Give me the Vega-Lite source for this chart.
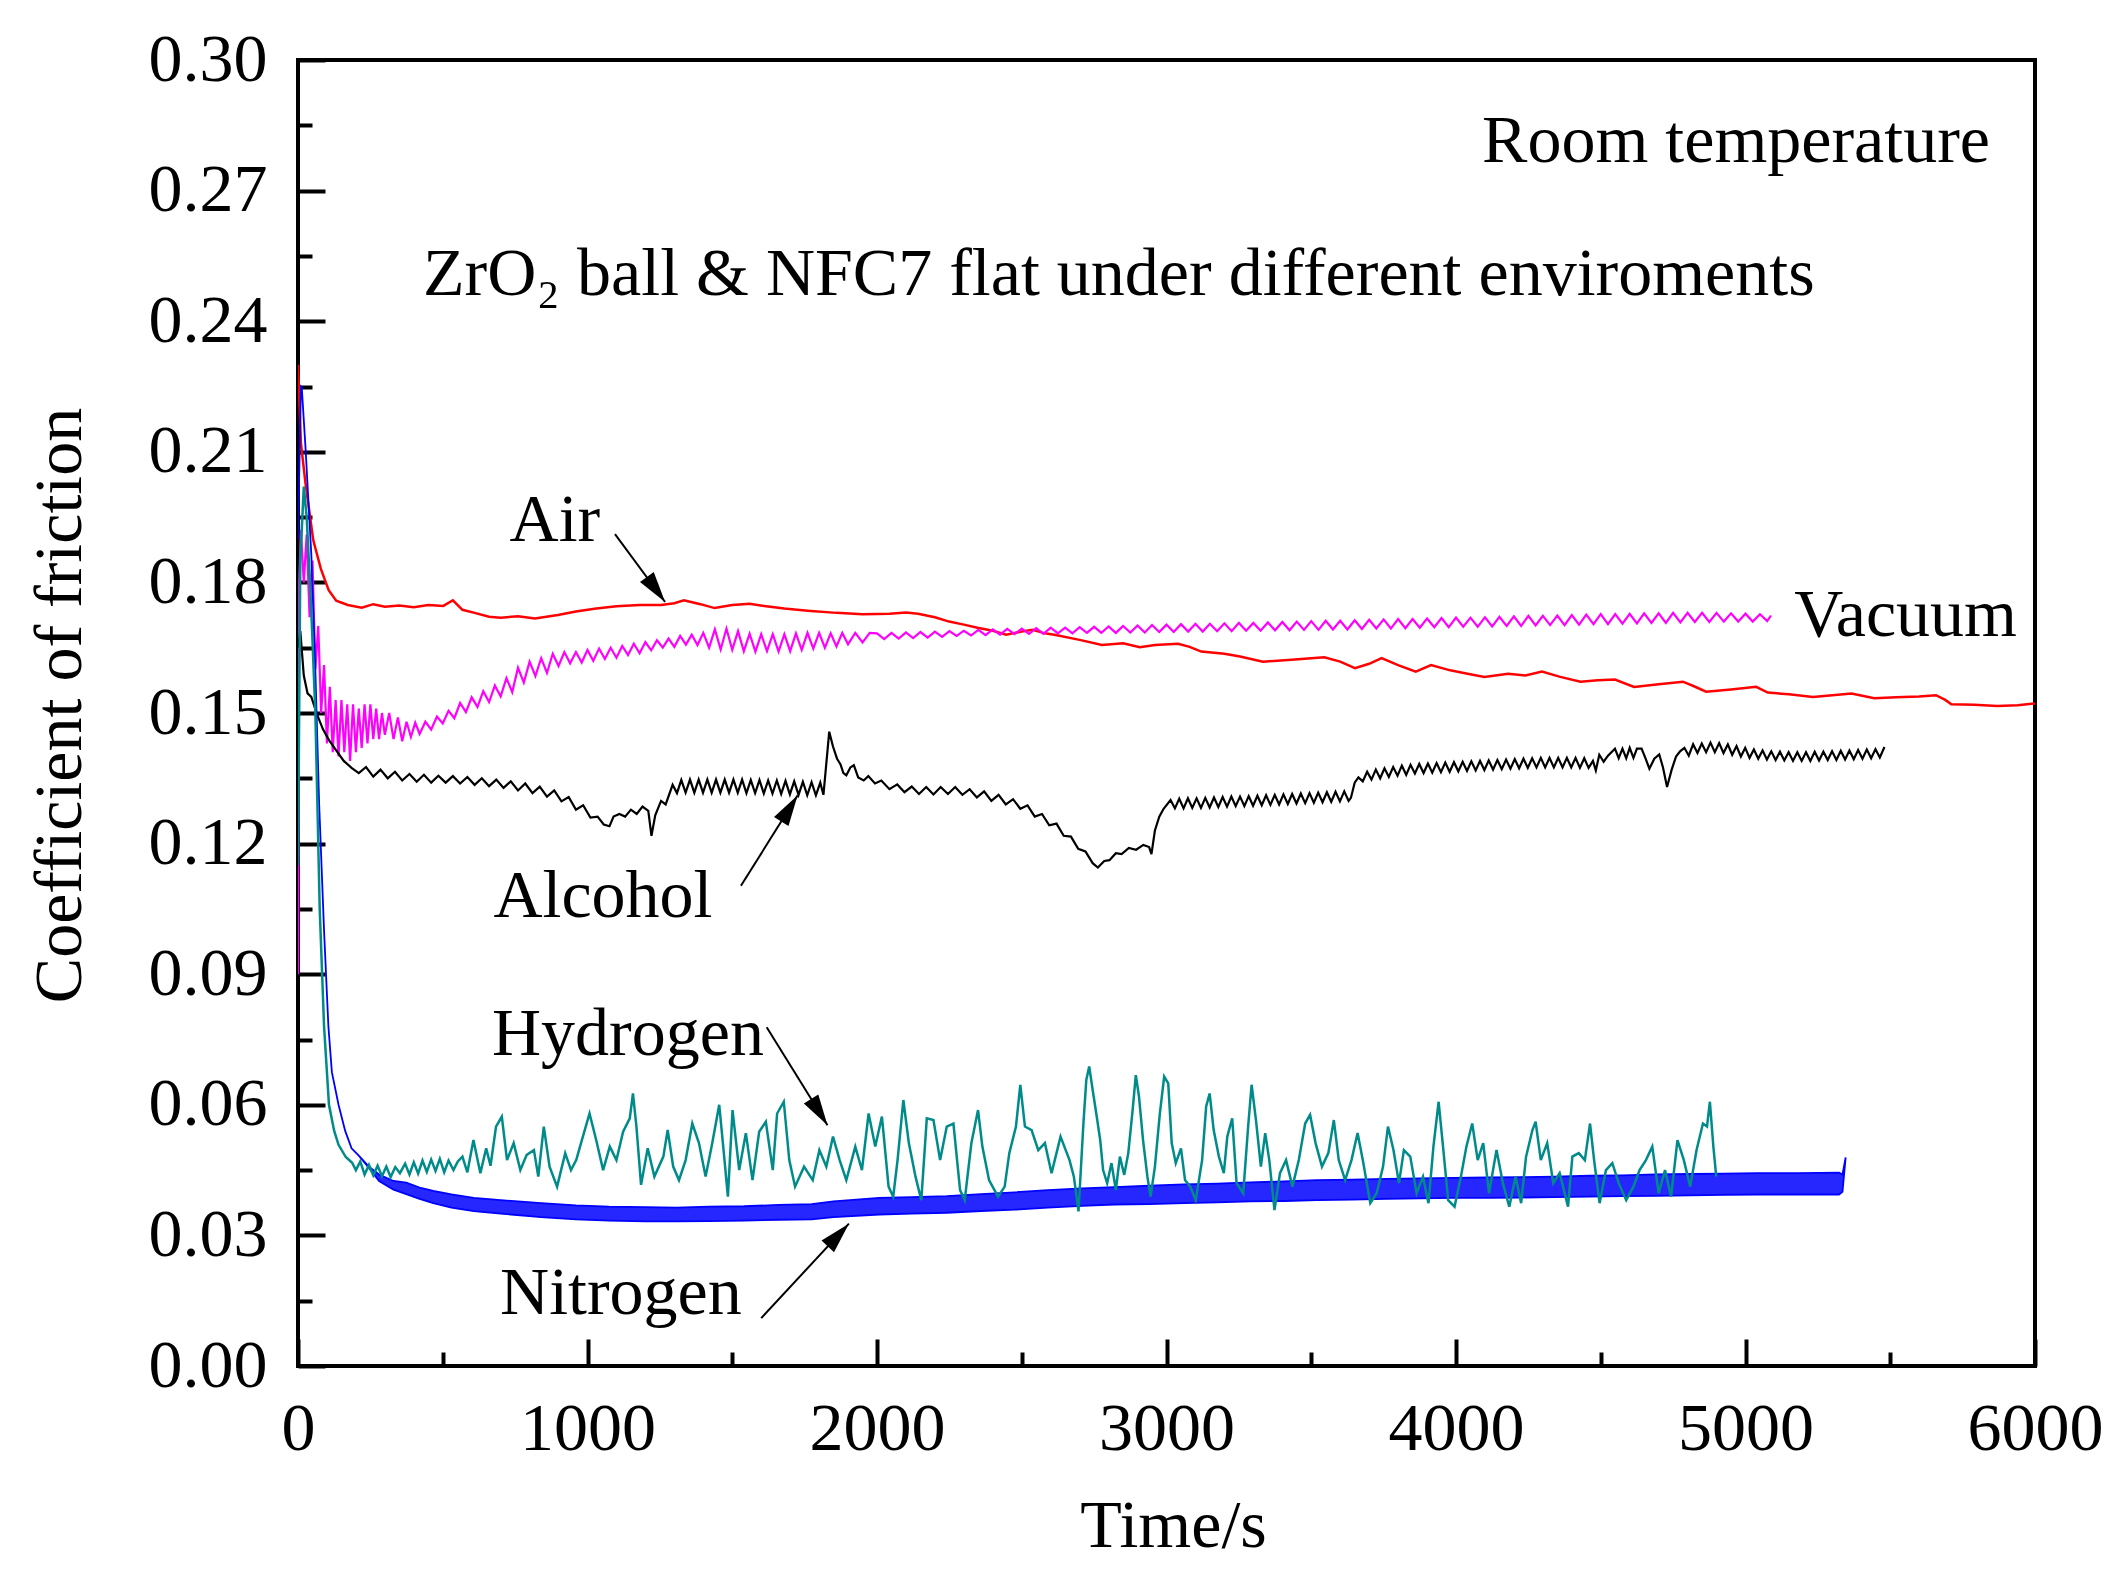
{
  "$schema": "https://vega.github.io/schema/vega-lite/v6.json",
  "width": 1737,
  "height": 1306,
  "autosize": {"type": "none"},
  "padding": {"left": 298, "top": 60, "right": 85, "bottom": 203},
  "background": "white",
  "config": {
    "view": {"stroke": "black", "strokeWidth": 4},
    "font": "Liberation Serif"
  },
  "datasets": {
    "air": [
      {"t":0,"v":0.230},{"t":10,"v":0.212},{"t":26,"v":0.2027},{"t":53,"v":0.1896},{"t":79,"v":0.1831},{"t":106,"v":0.1782},{"t":132,"v":0.1758},{"t":172,"v":0.1748},{"t":220,"v":0.1742},{"t":260,"v":0.1750},{"t":300,"v":0.1744},{"t":350,"v":0.1747},{"t":400,"v":0.1743},{"t":450,"v":0.1748},{"t":502,"v":0.1746},{"t":535,"v":0.1759},{"t":568,"v":0.1737},{"t":610,"v":0.1730},{"t":660,"v":0.1721},{"t":700,"v":0.1719},{"t":760,"v":0.1722},{"t":818,"v":0.1717},{"t":898,"v":0.1725},{"t":960,"v":0.1733},{"t":1030,"v":0.1740},{"t":1100,"v":0.1745},{"t":1180,"v":0.1748},{"t":1254,"v":0.1748},{"t":1300,"v":0.1752},{"t":1333,"v":0.1759},{"t":1390,"v":0.1750},{"t":1439,"v":0.1741},{"t":1500,"v":0.1748},{"t":1560,"v":0.1751},{"t":1610,"v":0.1746},{"t":1680,"v":0.1740},{"t":1760,"v":0.1735},{"t":1861,"v":0.1730},{"t":1950,"v":0.1727},{"t":2043,"v":0.1728},{"t":2100,"v":0.1731},{"t":2142,"v":0.1728},{"t":2200,"v":0.1720},{"t":2249,"v":0.1710},{"t":2300,"v":0.1703},{"t":2347,"v":0.1696},{"t":2400,"v":0.1689},{"t":2446,"v":0.1680},{"t":2500,"v":0.1687},{"t":2538,"v":0.1691},{"t":2580,"v":0.1683},{"t":2617,"v":0.1679},{"t":2700,"v":0.1668},{"t":2777,"v":0.1656},{"t":2850,"v":0.1660},{"t":2908,"v":0.1651},{"t":2960,"v":0.1656},{"t":3040,"v":0.1659},{"t":3080,"v":0.1652},{"t":3120,"v":0.1641},{"t":3200,"v":0.1636},{"t":3254,"v":0.1630},{"t":3333,"v":0.1618},{"t":3420,"v":0.1622},{"t":3500,"v":0.1626},{"t":3545,"v":0.1628},{"t":3600,"v":0.1618},{"t":3651,"v":0.1603},{"t":3700,"v":0.1613},{"t":3743,"v":0.1626},{"t":3800,"v":0.1610},{"t":3861,"v":0.1595},{"t":3914,"v":0.1610},{"t":3980,"v":0.1598},{"t":4040,"v":0.1590},{"t":4098,"v":0.1583},{"t":4180,"v":0.1590},{"t":4240,"v":0.1586},{"t":4297,"v":0.1595},{"t":4360,"v":0.1583},{"t":4430,"v":0.1572},{"t":4490,"v":0.1575},{"t":4549,"v":0.1577},{"t":4615,"v":0.1560},{"t":4700,"v":0.1566},{"t":4784,"v":0.1572},{"t":4820,"v":0.1562},{"t":4864,"v":0.1549},{"t":4950,"v":0.1554},{"t":5037,"v":0.1560},{"t":5077,"v":0.1547},{"t":5150,"v":0.1543},{"t":5233,"v":0.1537},{"t":5300,"v":0.1541},{"t":5366,"v":0.1545},{"t":5445,"v":0.1534},{"t":5520,"v":0.1536},{"t":5600,"v":0.1538},{"t":5658,"v":0.1541},{"t":5690,"v":0.1530},{"t":5711,"v":0.1520},{"t":5790,"v":0.1519},{"t":5870,"v":0.1516},{"t":5940,"v":0.1518},{"t":6000,"v":0.1522}
    ],
    "vacuum": [
      {"t":0,"v":0.090},{"t":4,"v":0.180},{"t":10,"v":0.192},{"t":20,"v":0.180},{"t":30,"v":0.191},{"t":40,"v":0.172},{"t":50,"v":0.185},{"t":60,"v":0.160},{"t":70,"v":0.170},{"t":80,"v":0.150},{"t":90,"v":0.161},{"t":100,"v":0.143},{"t":110,"v":0.156},{"t":120,"v":0.141},{"t":130,"v":0.153},{"t":140,"v":0.140},{"t":150,"v":0.153},{"t":160,"v":0.141},{"t":170,"v":0.152},{"t":180,"v":0.139},{"t":190,"v":0.152},{"t":200,"v":0.141},{"t":210,"v":0.151},{"t":220,"v":0.142},{"t":230,"v":0.152},{"t":240,"v":0.143},{"t":250,"v":0.152},{"t":260,"v":0.144},{"t":270,"v":0.151},{"t":280,"v":0.144},{"t":290,"v":0.150},{"t":300,"v":0.145},{"t":315,"v":0.150},{"t":330,"v":0.144},{"t":345,"v":0.149},{"t":360,"v":0.1435},{"t":375,"v":0.148},{"t":390,"v":0.1445},{"t":405,"v":0.1478},{"t":420,"v":0.1452},{"t":440,"v":0.1480},{"t":460,"v":0.1462},{"t":480,"v":0.1492},{"t":500,"v":0.1476},{"t":520,"v":0.1505},{"t":540,"v":0.1488},{"t":560,"v":0.1523},{"t":580,"v":0.1502},{"t":600,"v":0.1536},{"t":620,"v":0.1514},{"t":640,"v":0.1550},{"t":660,"v":0.1525},{"t":680,"v":0.1563},{"t":700,"v":0.1538},{"t":720,"v":0.1580},{"t":740,"v":0.1548},{"t":760,"v":0.1604},{"t":780,"v":0.1570},{"t":800,"v":0.1618},{"t":820,"v":0.1585},{"t":840,"v":0.1626},{"t":860,"v":0.1592},{"t":880,"v":0.1636},{"t":900,"v":0.1608},{"t":920,"v":0.1640},{"t":940,"v":0.1614},{"t":960,"v":0.1640},{"t":980,"v":0.1616},{"t":1000,"v":0.1645},{"t":1020,"v":0.1620},{"t":1040,"v":0.1648},{"t":1060,"v":0.1624},{"t":1080,"v":0.1650},{"t":1100,"v":0.1627},{"t":1120,"v":0.1654},{"t":1140,"v":0.1633},{"t":1160,"v":0.1659},{"t":1180,"v":0.1637},{"t":1200,"v":0.1663},{"t":1220,"v":0.1644},{"t":1240,"v":0.1667},{"t":1260,"v":0.1650},{"t":1280,"v":0.1671},{"t":1300,"v":0.1652},{"t":1320,"v":0.1677},{"t":1340,"v":0.1657},{"t":1360,"v":0.1680},{"t":1380,"v":0.1656},{"t":1400,"v":0.1684},{"t":1420,"v":0.1650},{"t":1440,"v":0.1692},{"t":1460,"v":0.1646},{"t":1480,"v":0.1694},{"t":1500,"v":0.1645},{"t":1520,"v":0.1688},{"t":1540,"v":0.1642},{"t":1560,"v":0.1682},{"t":1580,"v":0.1641},{"t":1600,"v":0.1681},{"t":1620,"v":0.1642},{"t":1640,"v":0.1681},{"t":1660,"v":0.1641},{"t":1680,"v":0.1681},{"t":1700,"v":0.1642},{"t":1720,"v":0.1683},{"t":1740,"v":0.1645},{"t":1760,"v":0.1684},{"t":1780,"v":0.1648},{"t":1800,"v":0.1684},{"t":1820,"v":0.1650},{"t":1840,"v":0.1683},{"t":1860,"v":0.1653},{"t":1880,"v":0.1684},{"t":1900,"v":0.1658},{"t":1925,"v":0.1684},{"t":1950,"v":0.1662},{"t":1975,"v":0.1684},{"t":2000,"v":0.1683},{"t":2025,"v":0.1670},{"t":2050,"v":0.1684},{"t":2075,"v":0.1671},{"t":2100,"v":0.1685},{"t":2125,"v":0.1672},{"t":2150,"v":0.1686},{"t":2175,"v":0.1673},{"t":2200,"v":0.1687},{"t":2225,"v":0.1675},{"t":2250,"v":0.1688},{"t":2275,"v":0.1677},{"t":2300,"v":0.1689},{"t":2325,"v":0.1678},{"t":2350,"v":0.1691},{"t":2375,"v":0.1679},{"t":2400,"v":0.1692},{"t":2425,"v":0.1680},{"t":2450,"v":0.1693},{"t":2475,"v":0.1681},{"t":2500,"v":0.1694},{"t":2525,"v":0.1682},{"t":2550,"v":0.1695},{"t":2575,"v":0.1682},{"t":2600,"v":0.1696},{"t":2625,"v":0.1683},{"t":2650,"v":0.1696},{"t":2675,"v":0.1683},{"t":2700,"v":0.1697},{"t":2725,"v":0.1684},{"t":2750,"v":0.1698},{"t":2775,"v":0.1684},{"t":2800,"v":0.1699},{"t":2825,"v":0.1684},{"t":2850,"v":0.1700},{"t":2875,"v":0.1685},{"t":2900,"v":0.1701},{"t":2925,"v":0.1685},{"t":2950,"v":0.1702},{"t":2975,"v":0.1686},{"t":3000,"v":0.1703},{"t":3025,"v":0.1686},{"t":3050,"v":0.1704},{"t":3075,"v":0.1687},{"t":3100,"v":0.1705},{"t":3125,"v":0.1687},{"t":3150,"v":0.1705},{"t":3175,"v":0.1688},{"t":3200,"v":0.1706},{"t":3225,"v":0.1688},{"t":3250,"v":0.1707},{"t":3275,"v":0.1689},{"t":3300,"v":0.1707},{"t":3325,"v":0.1689},{"t":3350,"v":0.1708},{"t":3375,"v":0.1690},{"t":3400,"v":0.1709},{"t":3425,"v":0.1690},{"t":3450,"v":0.1710},{"t":3475,"v":0.1691},{"t":3500,"v":0.1711},{"t":3525,"v":0.1691},{"t":3550,"v":0.1712},{"t":3575,"v":0.1692},{"t":3600,"v":0.1712},{"t":3625,"v":0.1692},{"t":3650,"v":0.1713},{"t":3675,"v":0.1693},{"t":3700,"v":0.1714},{"t":3725,"v":0.1694},{"t":3750,"v":0.1715},{"t":3775,"v":0.1694},{"t":3800,"v":0.1716},{"t":3825,"v":0.1695},{"t":3850,"v":0.1716},{"t":3875,"v":0.1696},{"t":3900,"v":0.1717},{"t":3925,"v":0.1697},{"t":3950,"v":0.1718},{"t":3975,"v":0.1697},{"t":4000,"v":0.1719},{"t":4025,"v":0.1698},{"t":4050,"v":0.1719},{"t":4075,"v":0.1698},{"t":4100,"v":0.1720},{"t":4125,"v":0.1699},{"t":4150,"v":0.1721},{"t":4175,"v":0.1700},{"t":4200,"v":0.1722},{"t":4225,"v":0.1700},{"t":4250,"v":0.1723},{"t":4275,"v":0.1701},{"t":4300,"v":0.1723},{"t":4325,"v":0.1702},{"t":4350,"v":0.1724},{"t":4375,"v":0.1702},{"t":4400,"v":0.1725},{"t":4425,"v":0.1703},{"t":4450,"v":0.1726},{"t":4475,"v":0.1704},{"t":4500,"v":0.1727},{"t":4525,"v":0.1704},{"t":4550,"v":0.1727},{"t":4575,"v":0.1705},{"t":4600,"v":0.1728},{"t":4625,"v":0.1706},{"t":4650,"v":0.1729},{"t":4675,"v":0.1707},{"t":4700,"v":0.1729},{"t":4725,"v":0.1707},{"t":4750,"v":0.1730},{"t":4775,"v":0.1708},{"t":4800,"v":0.1730},{"t":4825,"v":0.1709},{"t":4850,"v":0.1730},{"t":4875,"v":0.1709},{"t":4900,"v":0.1730},{"t":4925,"v":0.1710},{"t":4950,"v":0.1729},{"t":4975,"v":0.1710},{"t":5000,"v":0.1728},{"t":5025,"v":0.1710},{"t":5050,"v":0.1727},{"t":5075,"v":0.1711},{"t":5088,"v":0.1724}
    ],
    "alcohol": [
      {"t":0,"v":0.165},{"t":8,"v":0.1688},{"t":20,"v":0.1586},{"t":33,"v":0.1545},{"t":46,"v":0.1537},{"t":66,"v":0.1496},{"t":86,"v":0.1463},{"t":106,"v":0.1439},{"t":132,"v":0.1414},{"t":158,"v":0.1390},{"t":185,"v":0.1374},{"t":210,"v":0.1362},{"t":235,"v":0.1376},{"t":260,"v":0.1354},{"t":285,"v":0.1370},{"t":310,"v":0.1350},{"t":335,"v":0.1365},{"t":360,"v":0.1345},{"t":385,"v":0.1360},{"t":410,"v":0.1342},{"t":435,"v":0.1358},{"t":460,"v":0.1340},{"t":485,"v":0.1356},{"t":510,"v":0.1340},{"t":535,"v":0.1355},{"t":560,"v":0.1338},{"t":585,"v":0.1353},{"t":610,"v":0.1335},{"t":635,"v":0.1350},{"t":660,"v":0.1332},{"t":685,"v":0.1347},{"t":710,"v":0.1328},{"t":735,"v":0.1343},{"t":760,"v":0.1322},{"t":785,"v":0.1338},{"t":810,"v":0.1316},{"t":835,"v":0.1331},{"t":860,"v":0.1308},{"t":885,"v":0.1322},{"t":910,"v":0.1297},{"t":935,"v":0.1307},{"t":960,"v":0.1278},{"t":985,"v":0.1288},{"t":1010,"v":0.1260},{"t":1035,"v":0.1262},{"t":1056,"v":0.1244},{"t":1076,"v":0.1240},{"t":1090,"v":0.1262},{"t":1110,"v":0.1268},{"t":1130,"v":0.1262},{"t":1150,"v":0.1278},{"t":1170,"v":0.1268},{"t":1190,"v":0.1285},{"t":1210,"v":0.1275},{"t":1221,"v":0.1218},{"t":1234,"v":0.1265},{"t":1254,"v":0.1298},{"t":1270,"v":0.1290},{"t":1294,"v":0.1335},{"t":1309,"v":0.1316},{"t":1324,"v":0.1346},{"t":1339,"v":0.1317},{"t":1354,"v":0.1347},{"t":1369,"v":0.1317},{"t":1384,"v":0.1347},{"t":1399,"v":0.1317},{"t":1414,"v":0.1347},{"t":1429,"v":0.1317},{"t":1444,"v":0.1347},{"t":1459,"v":0.1317},{"t":1474,"v":0.1347},{"t":1489,"v":0.1317},{"t":1504,"v":0.1347},{"t":1519,"v":0.1317},{"t":1534,"v":0.1347},{"t":1549,"v":0.1316},{"t":1564,"v":0.1346},{"t":1579,"v":0.1316},{"t":1594,"v":0.1346},{"t":1609,"v":0.1315},{"t":1624,"v":0.1345},{"t":1639,"v":0.1315},{"t":1654,"v":0.1345},{"t":1669,"v":0.1314},{"t":1684,"v":0.1344},{"t":1699,"v":0.1313},{"t":1714,"v":0.1343},{"t":1729,"v":0.1312},{"t":1744,"v":0.1342},{"t":1759,"v":0.1311},{"t":1774,"v":0.1341},{"t":1789,"v":0.1311},{"t":1804,"v":0.1340},{"t":1815,"v":0.1312},{"t":1835,"v":0.1457},{"t":1848,"v":0.1423},{"t":1862,"v":0.1395},{"t":1874,"v":0.1382},{"t":1884,"v":0.1362},{"t":1894,"v":0.1357},{"t":1908,"v":0.1375},{"t":1920,"v":0.1380},{"t":1935,"v":0.1352},{"t":1954,"v":0.1345},{"t":1970,"v":0.1355},{"t":1993,"v":0.1338},{"t":2015,"v":0.1345},{"t":2043,"v":0.1325},{"t":2070,"v":0.1336},{"t":2095,"v":0.1318},{"t":2120,"v":0.1331},{"t":2145,"v":0.1314},{"t":2170,"v":0.1330},{"t":2195,"v":0.1313},{"t":2220,"v":0.1330},{"t":2245,"v":0.1314},{"t":2270,"v":0.1330},{"t":2295,"v":0.1312},{"t":2320,"v":0.1325},{"t":2345,"v":0.1306},{"t":2370,"v":0.1320},{"t":2395,"v":0.1298},{"t":2420,"v":0.1312},{"t":2445,"v":0.1290},{"t":2470,"v":0.1302},{"t":2495,"v":0.1280},{"t":2520,"v":0.1288},{"t":2545,"v":0.1262},{"t":2570,"v":0.1268},{"t":2595,"v":0.1242},{"t":2620,"v":0.1246},{"t":2645,"v":0.1218},{"t":2670,"v":0.1216},{"t":2695,"v":0.1188},{"t":2720,"v":0.1182},{"t":2745,"v":0.1155},{"t":2763,"v":0.1145},{"t":2785,"v":0.1160},{"t":2803,"v":0.1162},{"t":2825,"v":0.1178},{"t":2845,"v":0.1176},{"t":2870,"v":0.1190},{"t":2895,"v":0.1186},{"t":2920,"v":0.1197},{"t":2940,"v":0.1192},{"t":2948,"v":0.1176},{"t":2960,"v":0.1230},{"t":2975,"v":0.1262},{"t":2990,"v":0.1280},{"t":3014,"v":0.1300},{"t":3029,"v":0.1281},{"t":3044,"v":0.1303},{"t":3059,"v":0.1281},{"t":3074,"v":0.1304},{"t":3089,"v":0.1282},{"t":3104,"v":0.1304},{"t":3119,"v":0.1282},{"t":3134,"v":0.1305},{"t":3149,"v":0.1283},{"t":3164,"v":0.1306},{"t":3179,"v":0.1284},{"t":3194,"v":0.1307},{"t":3209,"v":0.1285},{"t":3224,"v":0.1308},{"t":3239,"v":0.1286},{"t":3254,"v":0.1308},{"t":3269,"v":0.1286},{"t":3284,"v":0.1309},{"t":3299,"v":0.1287},{"t":3314,"v":0.1310},{"t":3329,"v":0.1288},{"t":3344,"v":0.1311},{"t":3359,"v":0.1289},{"t":3374,"v":0.1312},{"t":3389,"v":0.1290},{"t":3404,"v":0.1313},{"t":3419,"v":0.1291},{"t":3434,"v":0.1314},{"t":3449,"v":0.1292},{"t":3464,"v":0.1315},{"t":3479,"v":0.1293},{"t":3494,"v":0.1316},{"t":3509,"v":0.1294},{"t":3524,"v":0.1317},{"t":3539,"v":0.1295},{"t":3554,"v":0.1318},{"t":3569,"v":0.1296},{"t":3584,"v":0.1319},{"t":3599,"v":0.1297},{"t":3614,"v":0.1320},{"t":3629,"v":0.1298},{"t":3637,"v":0.1305},{"t":3650,"v":0.1340},{"t":3663,"v":0.1352},{"t":3678,"v":0.1343},{"t":3693,"v":0.1365},{"t":3708,"v":0.1347},{"t":3723,"v":0.1370},{"t":3738,"v":0.1350},{"t":3753,"v":0.1373},{"t":3768,"v":0.1353},{"t":3783,"v":0.1376},{"t":3798,"v":0.1356},{"t":3813,"v":0.1379},{"t":3828,"v":0.1358},{"t":3843,"v":0.1381},{"t":3858,"v":0.1361},{"t":3873,"v":0.1383},{"t":3888,"v":0.1362},{"t":3903,"v":0.1384},{"t":3918,"v":0.1363},{"t":3933,"v":0.1385},{"t":3948,"v":0.1364},{"t":3963,"v":0.1386},{"t":3978,"v":0.1365},{"t":3993,"v":0.1387},{"t":4008,"v":0.1366},{"t":4023,"v":0.1388},{"t":4038,"v":0.1367},{"t":4053,"v":0.1389},{"t":4068,"v":0.1368},{"t":4083,"v":0.1390},{"t":4098,"v":0.1369},{"t":4113,"v":0.1391},{"t":4128,"v":0.1370},{"t":4143,"v":0.1392},{"t":4158,"v":0.1371},{"t":4173,"v":0.1393},{"t":4188,"v":0.1372},{"t":4203,"v":0.1394},{"t":4218,"v":0.1373},{"t":4233,"v":0.1395},{"t":4248,"v":0.1374},{"t":4263,"v":0.1396},{"t":4278,"v":0.1375},{"t":4293,"v":0.1397},{"t":4308,"v":0.1375},{"t":4323,"v":0.1397},{"t":4338,"v":0.1375},{"t":4353,"v":0.1397},{"t":4368,"v":0.1375},{"t":4383,"v":0.1397},{"t":4398,"v":0.1375},{"t":4413,"v":0.1397},{"t":4428,"v":0.1374},{"t":4443,"v":0.1396},{"t":4458,"v":0.1374},{"t":4473,"v":0.1390},{"t":4483,"v":0.1368},{"t":4495,"v":0.1404},{"t":4510,"v":0.1388},{"t":4525,"v":0.1402},{"t":4549,"v":0.1418},{"t":4562,"v":0.1396},{"t":4575,"v":0.1418},{"t":4588,"v":0.1396},{"t":4600,"v":0.1420},{"t":4613,"v":0.1397},{"t":4625,"v":0.1418},{"t":4641,"v":0.1418},{"t":4655,"v":0.1395},{"t":4668,"v":0.1372},{"t":4685,"v":0.1395},{"t":4702,"v":0.1405},{"t":4715,"v":0.1375},{"t":4729,"v":0.1330},{"t":4745,"v":0.1370},{"t":4760,"v":0.1400},{"t":4774,"v":0.1412},{"t":4789,"v":0.1420},{"t":4804,"v":0.1402},{"t":4819,"v":0.1428},{"t":4834,"v":0.1408},{"t":4849,"v":0.1430},{"t":4864,"v":0.1410},{"t":4879,"v":0.1432},{"t":4894,"v":0.1410},{"t":4909,"v":0.1431},{"t":4924,"v":0.1408},{"t":4939,"v":0.1428},{"t":4954,"v":0.1404},{"t":4969,"v":0.1424},{"t":4984,"v":0.1400},{"t":4999,"v":0.1420},{"t":5014,"v":0.1397},{"t":5029,"v":0.1416},{"t":5044,"v":0.1395},{"t":5059,"v":0.1414},{"t":5074,"v":0.1393},{"t":5089,"v":0.1412},{"t":5104,"v":0.1392},{"t":5119,"v":0.1411},{"t":5134,"v":0.1391},{"t":5149,"v":0.1410},{"t":5164,"v":0.1390},{"t":5179,"v":0.1410},{"t":5194,"v":0.1390},{"t":5209,"v":0.1410},{"t":5224,"v":0.1390},{"t":5239,"v":0.1411},{"t":5254,"v":0.1391},{"t":5269,"v":0.1411},{"t":5284,"v":0.1392},{"t":5299,"v":0.1412},{"t":5314,"v":0.1392},{"t":5329,"v":0.1413},{"t":5344,"v":0.1393},{"t":5359,"v":0.1414},{"t":5374,"v":0.1394},{"t":5389,"v":0.1415},{"t":5404,"v":0.1395},{"t":5419,"v":0.1416},{"t":5434,"v":0.1396},{"t":5449,"v":0.1417},{"t":5464,"v":0.1398},{"t":5480,"v":0.1422}
    ],
    "nitrogen": [
      {"t":0,"lo":0.190,"hi":0.190},{"t":10,"lo":0.225,"hi":0.225},{"t":13,"lo":0.2248,"hi":0.2248},{"t":26,"lo":0.2109,"hi":0.2109},{"t":46,"lo":0.1864,"hi":0.1864},{"t":59,"lo":0.162,"hi":0.162},{"t":73,"lo":0.1292,"hi":0.1292},{"t":90,"lo":0.100,"hi":0.100},{"t":105,"lo":0.078,"hi":0.078},{"t":117,"lo":0.0675,"hi":0.0675},{"t":140,"lo":0.060,"hi":0.060},{"t":163,"lo":0.054,"hi":0.054},{"t":185,"lo":0.050,"hi":0.050},{"t":210,"lo":0.0483,"hi":0.0483},{"t":245,"lo":0.0455,"hi":0.0458},{"t":280,"lo":0.0425,"hi":0.0440},{"t":330,"lo":0.0405,"hi":0.0425},{"t":374,"lo":0.0395,"hi":0.0421},{"t":420,"lo":0.0384,"hi":0.0410},{"t":467,"lo":0.0374,"hi":0.0402},{"t":530,"lo":0.0364,"hi":0.0394},{"t":607,"lo":0.0356,"hi":0.0386},{"t":700,"lo":0.0350,"hi":0.0381},{"t":840,"lo":0.0342,"hi":0.0374},{"t":960,"lo":0.0337,"hi":0.0369},{"t":1074,"lo":0.0334,"hi":0.0366},{"t":1200,"lo":0.0332,"hi":0.0365},{"t":1307,"lo":0.0332,"hi":0.0364},{"t":1420,"lo":0.0333,"hi":0.0366},{"t":1541,"lo":0.0334,"hi":0.0367},{"t":1660,"lo":0.0336,"hi":0.0370},{"t":1774,"lo":0.0337,"hi":0.0372},{"t":1850,"lo":0.0342,"hi":0.0378},{"t":2008,"lo":0.0348,"hi":0.0386},{"t":2120,"lo":0.0350,"hi":0.0388},{"t":2241,"lo":0.0352,"hi":0.0390},{"t":2360,"lo":0.0356,"hi":0.0395},{"t":2475,"lo":0.0359,"hi":0.0399},{"t":2590,"lo":0.0364,"hi":0.0404},{"t":2708,"lo":0.0368,"hi":0.0408},{"t":2820,"lo":0.0371,"hi":0.0411},{"t":2941,"lo":0.0372,"hi":0.0414},{"t":3060,"lo":0.0374,"hi":0.0417},{"t":3175,"lo":0.0376,"hi":0.0419},{"t":3290,"lo":0.0378,"hi":0.0422},{"t":3408,"lo":0.0379,"hi":0.0424},{"t":3520,"lo":0.0381,"hi":0.0427},{"t":3642,"lo":0.0382,"hi":0.0428},{"t":3760,"lo":0.0384,"hi":0.0430},{"t":3875,"lo":0.0385,"hi":0.0431},{"t":3990,"lo":0.0386,"hi":0.0432},{"t":4109,"lo":0.0386,"hi":0.0433},{"t":4225,"lo":0.0387,"hi":0.0434},{"t":4342,"lo":0.0388,"hi":0.0435},{"t":4460,"lo":0.0389,"hi":0.0437},{"t":4576,"lo":0.0390,"hi":0.0438},{"t":4690,"lo":0.0391,"hi":0.0440},{"t":4809,"lo":0.0392,"hi":0.0441},{"t":4925,"lo":0.0393,"hi":0.0442},{"t":5042,"lo":0.0394,"hi":0.0443},{"t":5180,"lo":0.0394,"hi":0.0443},{"t":5323,"lo":0.0394,"hi":0.0444},{"t":5335,"lo":0.0400,"hi":0.0440},{"t":5346,"lo":0.0479,"hi":0.0479}
    ],
    "hydrogen": [
      {"t":0,"v":0.115},{"t":8,"v":0.185},{"t":20,"v":0.202},{"t":30,"v":0.195},{"t":45,"v":0.175},{"t":60,"v":0.150},{"t":75,"v":0.105},{"t":90,"v":0.078},{"t":107,"v":0.060},{"t":125,"v":0.054},{"t":140,"v":0.0508},{"t":165,"v":0.048},{"t":187,"v":0.0467},{"t":200,"v":0.0450},{"t":215,"v":0.0470},{"t":230,"v":0.0440},{"t":245,"v":0.0462},{"t":260,"v":0.0438},{"t":275,"v":0.0460},{"t":290,"v":0.0436},{"t":305,"v":0.0458},{"t":320,"v":0.0434},{"t":336,"v":0.0457},{"t":352,"v":0.0443},{"t":370,"v":0.0465},{"t":385,"v":0.0440},{"t":400,"v":0.0468},{"t":415,"v":0.0442},{"t":430,"v":0.0472},{"t":445,"v":0.0446},{"t":460,"v":0.0474},{"t":475,"v":0.0448},{"t":490,"v":0.0476},{"t":505,"v":0.0445},{"t":520,"v":0.0472},{"t":537,"v":0.0450},{"t":552,"v":0.0470},{"t":568,"v":0.0481},{"t":585,"v":0.0445},{"t":606,"v":0.0519},{"t":630,"v":0.0443},{"t":650,"v":0.0500},{"t":665,"v":0.0460},{"t":684,"v":0.0550},{"t":704,"v":0.0573},{"t":722,"v":0.0473},{"t":745,"v":0.0512},{"t":768,"v":0.0450},{"t":790,"v":0.0485},{"t":815,"v":0.0496},{"t":830,"v":0.0435},{"t":849,"v":0.0550},{"t":869,"v":0.0458},{"t":895,"v":0.0412},{"t":923,"v":0.0489},{"t":943,"v":0.0450},{"t":961,"v":0.0473},{"t":984,"v":0.0527},{"t":1007,"v":0.0580},{"t":1030,"v":0.0519},{"t":1054,"v":0.0450},{"t":1077,"v":0.0504},{"t":1100,"v":0.0473},{"t":1123,"v":0.0538},{"t":1146,"v":0.0569},{"t":1157,"v":0.0626},{"t":1169,"v":0.0550},{"t":1185,"v":0.0416},{"t":1208,"v":0.0500},{"t":1231,"v":0.0435},{"t":1262,"v":0.0481},{"t":1277,"v":0.0542},{"t":1296,"v":0.0458},{"t":1316,"v":0.0427},{"t":1339,"v":0.0473},{"t":1362,"v":0.0557},{"t":1385,"v":0.0512},{"t":1408,"v":0.0435},{"t":1431,"v":0.0512},{"t":1455,"v":0.0600},{"t":1470,"v":0.0496},{"t":1485,"v":0.0389},{"t":1501,"v":0.0588},{"t":1524,"v":0.0450},{"t":1547,"v":0.0535},{"t":1570,"v":0.0427},{"t":1593,"v":0.0538},{"t":1616,"v":0.0561},{"t":1640,"v":0.0450},{"t":1655,"v":0.0580},{"t":1678,"v":0.0607},{"t":1697,"v":0.0473},{"t":1717,"v":0.0412},{"t":1748,"v":0.0458},{"t":1778,"v":0.0427},{"t":1801,"v":0.0496},{"t":1825,"v":0.0458},{"t":1848,"v":0.0527},{"t":1871,"v":0.0473},{"t":1894,"v":0.0427},{"t":1925,"v":0.0504},{"t":1948,"v":0.0450},{"t":1971,"v":0.0580},{"t":1994,"v":0.0504},{"t":2017,"v":0.0573},{"t":2040,"v":0.0412},{"t":2056,"v":0.0389},{"t":2071,"v":0.0473},{"t":2091,"v":0.0611},{"t":2110,"v":0.0512},{"t":2133,"v":0.0435},{"t":2153,"v":0.0381},{"t":2172,"v":0.0569},{"t":2195,"v":0.0565},{"t":2218,"v":0.0473},{"t":2241,"v":0.0550},{"t":2264,"v":0.0557},{"t":2287,"v":0.0404},{"t":2303,"v":0.0381},{"t":2326,"v":0.0512},{"t":2349,"v":0.0588},{"t":2364,"v":0.0504},{"t":2387,"v":0.0427},{"t":2418,"v":0.0389},{"t":2441,"v":0.0412},{"t":2457,"v":0.0489},{"t":2480,"v":0.0550},{"t":2495,"v":0.0646},{"t":2511,"v":0.0550},{"t":2534,"v":0.0542},{"t":2557,"v":0.0496},{"t":2580,"v":0.0512},{"t":2603,"v":0.0443},{"t":2634,"v":0.0527},{"t":2665,"v":0.0473},{"t":2680,"v":0.0435},{"t":2696,"v":0.0355},{"t":2713,"v":0.0557},{"t":2723,"v":0.0657},{"t":2733,"v":0.0688},{"t":2745,"v":0.0634},{"t":2759,"v":0.0573},{"t":2771,"v":0.0519},{"t":2781,"v":0.0450},{"t":2795,"v":0.0420},{"t":2810,"v":0.0466},{"t":2825,"v":0.0404},{"t":2839,"v":0.0481},{"t":2854,"v":0.0439},{"t":2868,"v":0.0489},{"t":2883,"v":0.0588},{"t":2894,"v":0.0668},{"t":2905,"v":0.0619},{"t":2919,"v":0.0519},{"t":2934,"v":0.0435},{"t":2945,"v":0.0389},{"t":2960,"v":0.0458},{"t":2977,"v":0.0580},{"t":2992,"v":0.0665},{"t":3006,"v":0.0649},{"t":3018,"v":0.0512},{"t":3032,"v":0.0466},{"t":3050,"v":0.0500},{"t":3064,"v":0.0427},{"t":3082,"v":0.0412},{"t":3101,"v":0.0381},{"t":3123,"v":0.0473},{"t":3137,"v":0.0596},{"t":3149,"v":0.0626},{"t":3163,"v":0.0542},{"t":3181,"v":0.0481},{"t":3198,"v":0.0443},{"t":3210,"v":0.0527},{"t":3227,"v":0.0569},{"t":3242,"v":0.0420},{"t":3265,"v":0.0397},{"t":3282,"v":0.0550},{"t":3294,"v":0.0646},{"t":3309,"v":0.0565},{"t":3326,"v":0.0458},{"t":3341,"v":0.0535},{"t":3355,"v":0.0473},{"t":3373,"v":0.0358},{"t":3392,"v":0.0443},{"t":3413,"v":0.0473},{"t":3435,"v":0.0412},{"t":3457,"v":0.0473},{"t":3479,"v":0.0557},{"t":3496,"v":0.0577},{"t":3515,"v":0.0512},{"t":3537,"v":0.0458},{"t":3559,"v":0.0489},{"t":3578,"v":0.0565},{"t":3595,"v":0.0473},{"t":3617,"v":0.0427},{"t":3639,"v":0.0473},{"t":3660,"v":0.0535},{"t":3678,"v":0.0473},{"t":3704,"v":0.0374},{"t":3726,"v":0.0397},{"t":3748,"v":0.0458},{"t":3765,"v":0.0550},{"t":3784,"v":0.0496},{"t":3803,"v":0.0420},{"t":3820,"v":0.0496},{"t":3842,"v":0.0481},{"t":3864,"v":0.0397},{"t":3886,"v":0.0435},{"t":3905,"v":0.0374},{"t":3922,"v":0.0504},{"t":3940,"v":0.0607},{"t":3954,"v":0.0512},{"t":3973,"v":0.0381},{"t":3995,"v":0.0366},{"t":4017,"v":0.0435},{"t":4036,"v":0.0504},{"t":4056,"v":0.0557},{"t":4075,"v":0.0473},{"t":4094,"v":0.0512},{"t":4114,"v":0.0397},{"t":4140,"v":0.0496},{"t":4162,"v":0.0420},{"t":4184,"v":0.0366},{"t":4206,"v":0.0435},{"t":4225,"v":0.0374},{"t":4242,"v":0.0481},{"t":4264,"v":0.0542},{"t":4275,"v":0.0561},{"t":4293,"v":0.0473},{"t":4315,"v":0.0512},{"t":4336,"v":0.0420},{"t":4358,"v":0.0443},{"t":4387,"v":0.0366},{"t":4402,"v":0.0481},{"t":4424,"v":0.0489},{"t":4445,"v":0.0473},{"t":4463,"v":0.0557},{"t":4477,"v":0.0473},{"t":4496,"v":0.0374},{"t":4518,"v":0.0450},{"t":4540,"v":0.0466},{"t":4562,"v":0.0420},{"t":4588,"v":0.0381},{"t":4613,"v":0.0412},{"t":4634,"v":0.0450},{"t":4656,"v":0.0473},{"t":4678,"v":0.0504},{"t":4700,"v":0.0397},{"t":4722,"v":0.0450},{"t":4743,"v":0.0389},{"t":4765,"v":0.0519},{"t":4787,"v":0.0473},{"t":4809,"v":0.0412},{"t":4831,"v":0.0496},{"t":4853,"v":0.0557},{"t":4867,"v":0.0550},{"t":4877,"v":0.0607},{"t":4889,"v":0.0504},{"t":4899,"v":0.0435}
    ],
    "labels": [
      {"text":"Room temperature","t":4090,"v":0.2766},
      {"text":"ZrO₂ ball & NFC7 flat under different enviroments","t":432,"v":0.246},
      {"text":"Air","t":731,"v":0.1895},
      {"text":"Vacuum","t":5168,"v":0.1678},
      {"text":"Alcohol","t":675,"v":0.1032},
      {"text":"Hydrogen","t":670,"v":0.0715},
      {"text":"Nitrogen","t":698,"v":0.0119}
    ],
    "arrows": [
      {"name":"Air","t":1095,"v":0.1911,"t2":1268,"v2":0.1755},
      {"name":"Alcohol","t":1530,"v":0.1103,"t2":1726,"v2":0.1311},
      {"name":"Hydrogen","t":1619,"v":0.0778,"t2":1829,"v2":0.0553},
      {"name":"Nitrogen","t":1600,"v":0.0110,"t2":1903,"v2":0.0327}
    ]
  },
  "encoding": {
    "x": {
      "field": "t",
      "type": "quantitative",
      "scale": {"domain": [0, 6000], "nice": false, "zero": false},
      "axis": {
        "values": [0, 500, 1000, 1500, 2000, 2500, 3000, 3500, 4000, 4500, 5000, 5500, 6000],
        "labelExpr": "datum.value % 1000 === 0 ? datum.label : ''",
        "format": "d",
        "tickSize": {"condition": {"test": "datum.value % 1000 === 0", "value": -27}, "value": -14},
        "tickWidth": 4,
        "tickColor": "black",
        "domain": false,
        "grid": false,
        "labelFont": "Liberation Serif",
        "labelFontSize": 68,
        "labelColor": "black",
        "labelPadding": 56,
        "labelOverlap": false,
        "labelFlush": false,
        "title": "Time/s",
        "titleFont": "Liberation Serif",
        "titleFontSize": 68,
        "titleFontWeight": "normal",
        "titleColor": "black",
        "titleBaseline": "alphabetic",
        "titleX": 875,
        "titleY": 180
      }
    }
  },
  "layer": [
    {
      "data": {"name": "air"},
      "mark": {"type": "line", "color": "#FF0000", "strokeWidth": 2.5, "clip": true},
      "encoding": {
        "y": {
          "field": "v",
          "type": "quantitative",
          "scale": {"domain": [0, 0.3], "nice": false},
          "axis": {
            "values": [0, 0.015, 0.03, 0.045, 0.06, 0.075, 0.09, 0.105, 0.12, 0.135, 0.15, 0.165, 0.18, 0.195, 0.21, 0.225, 0.24, 0.255, 0.27, 0.285, 0.3],
            "labelExpr": "round(datum.value * 1000) % 30 === 0 ? format(datum.value, '.2f') : ''",
            "tickSize": {"condition": {"test": "round(datum.value * 1000) % 30 === 0", "value": -27}, "value": -14},
            "tickWidth": 4,
            "tickColor": "black",
            "domain": false,
            "grid": false,
            "labelFont": "Liberation Serif",
            "labelFontSize": 68,
            "labelColor": "black",
            "labelPadding": 58,
            "labelOverlap": false,
            "labelFlush": false,
            "title": "Coefficient of friction",
            "titleFont": "Liberation Serif",
            "titleFontSize": 68,
            "titleFontWeight": "normal",
            "titleColor": "black",
            "titleAngle": 270,
            "titleBaseline": "alphabetic",
            "titleAlign": "center",
            "titleX": -218,
            "titleY": 645
          }
        }
      }
    },
    {
      "data": {"name": "vacuum"},
      "mark": {"type": "line", "color": "#FF00FF", "strokeWidth": 2.2, "clip": true},
      "encoding": {"y": {"field": "v", "type": "quantitative"}}
    },
    {
      "data": {"name": "alcohol"},
      "mark": {"type": "line", "color": "#000000", "strokeWidth": 2.2, "clip": true},
      "encoding": {"y": {"field": "v", "type": "quantitative"}}
    },
    {
      "data": {"name": "nitrogen"},
      "mark": {"type": "area", "fill": "#0000FF", "fillOpacity": 0.85, "stroke": "#0000FF", "strokeWidth": 1.8, "clip": true},
      "encoding": {
        "y": {"field": "lo", "type": "quantitative"},
        "y2": {"field": "hi"}
      }
    },
    {
      "data": {"name": "hydrogen"},
      "mark": {"type": "line", "color": "#008B8B", "strokeWidth": 2.5, "clip": true},
      "encoding": {"y": {"field": "v", "type": "quantitative"}}
    },
    {
      "data": {"name": "arrows"},
      "mark": {"type": "rule", "color": "black", "strokeWidth": 2},
      "encoding": {
        "y": {"field": "v", "type": "quantitative"},
        "x2": {"field": "t2"},
        "y2": {"field": "v2"}
      }
    },
    {
      "data": {"name": "arrows"},
      "transform": [{"filter": "datum.name === 'Air'"}],
      "mark": {"type": "point", "shape": "M0,0L0.55,2L-0.55,2Z", "filled": true, "color": "black", "opacity": 1, "size": 961, "angle": 144},
      "encoding": {"x": {"field": "t2", "type": "quantitative"}, "y": {"field": "v2", "type": "quantitative"}}
    },
    {
      "data": {"name": "arrows"},
      "transform": [{"filter": "datum.name === 'Alcohol'"}],
      "mark": {"type": "point", "shape": "M0,0L0.55,2L-0.55,2Z", "filled": true, "color": "black", "opacity": 1, "size": 961, "angle": 32},
      "encoding": {"x": {"field": "t2", "type": "quantitative"}, "y": {"field": "v2", "type": "quantitative"}}
    },
    {
      "data": {"name": "arrows"},
      "transform": [{"filter": "datum.name === 'Hydrogen'"}],
      "mark": {"type": "point", "shape": "M0,0L0.55,2L-0.55,2Z", "filled": true, "color": "black", "opacity": 1, "size": 961, "angle": 148},
      "encoding": {"x": {"field": "t2", "type": "quantitative"}, "y": {"field": "v2", "type": "quantitative"}}
    },
    {
      "data": {"name": "arrows"},
      "transform": [{"filter": "datum.name === 'Nitrogen'"}],
      "mark": {"type": "point", "shape": "M0,0L0.55,2L-0.55,2Z", "filled": true, "color": "black", "opacity": 1, "size": 961, "angle": 43},
      "encoding": {"x": {"field": "t2", "type": "quantitative"}, "y": {"field": "v2", "type": "quantitative"}}
    },
    {
      "data": {"name": "labels"},
      "mark": {"type": "text", "font": "Liberation Serif", "fontSize": 68, "align": "left", "baseline": "alphabetic", "color": "black"},
      "encoding": {
        "y": {"field": "v", "type": "quantitative"},
        "text": {"field": "text", "type": "nominal"}
      }
    }
  ]
}
